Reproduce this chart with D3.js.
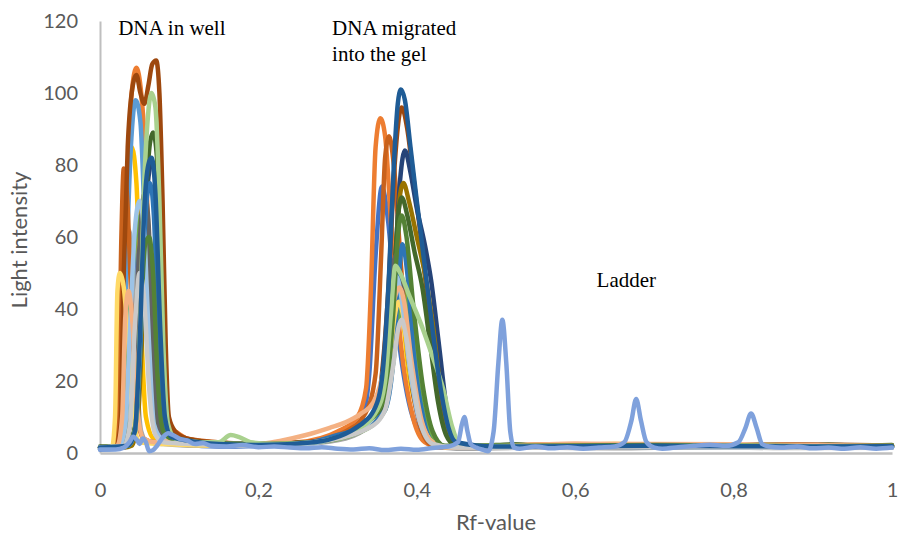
<!DOCTYPE html>
<html><head><meta charset="utf-8">
<script src="https://cdn.jsdelivr.net/npm/d3@7"></script>
<style>
html,body{margin:0;padding:0;background:#fff;}
svg{display:block;}
</style></head>
<body>
<svg id="chart" width="899" height="539"></svg>
<script>
// ---- DATA: [Rf-value, light intensity] ----
const xTicks = [0, 0.2, 0.4, 0.6, 0.8, 1];
const xTickLabels = ["0", "0,2", "0,4", "0,6", "0,8", "1"];
const yTicks = [0, 20, 40, 60, 80, 100, 120];

const sBlue = [[0,1],[0.02,1.2],[0.03,3],[0.037,30],[0.044,52],[0.05,60],[0.056,55],[0.062,28],[0.068,8],[0.08,3],[0.1,2.5],[0.15,1.8],[0.2,2],[0.25,2.5],[0.3,5],[0.33,9],[0.34,22],[0.348,55],[0.356,74],[0.364,64],[0.374,38],[0.39,14],[0.41,4],[0.43,1.5],[0.5,1.8],[0.6,1.5],[0.7,2],[0.8,1.6],[0.9,2],[1,1.7]];
const sOrange = [[0,1.5],[0.02,1.5],[0.028,6],[0.034,65],[0.04,100],[0.046,107],[0.052,100],[0.058,80],[0.064,40],[0.07,14],[0.08,8],[0.095,6],[0.11,4],[0.14,3],[0.2,2.5],[0.25,3],[0.3,6],[0.325,10],[0.336,18],[0.342,45],[0.348,85],[0.354,93],[0.36,88],[0.368,62],[0.38,30],[0.395,10],[0.41,3],[0.43,1.5],[0.5,2],[0.6,2.5],[0.7,1.8],[0.8,2.2],[0.9,1.8],[1,2]];
const sGray = [[0,1.2],[0.02,1.5],[0.027,8],[0.031,45],[0.036,62],[0.041,55],[0.046,25],[0.052,6],[0.06,3],[0.08,2.5],[0.12,2],[0.2,2],[0.26,2.5],[0.31,4],[0.345,9],[0.36,16],[0.37,30],[0.38,40],[0.387,34],[0.395,18],[0.41,6],[0.425,2],[0.45,1.2],[0.55,1.5],[0.65,1.3],[0.75,1.6],[0.85,1.4],[1,1.5]];
const sGold = [[0,1.5],[0.018,1.5],[0.024,10],[0.029,50],[0.034,78],[0.04,85],[0.046,75],[0.052,35],[0.058,10],[0.068,4],[0.09,3],[0.12,2.5],[0.2,2],[0.27,3],[0.32,6],[0.35,12],[0.36,25],[0.368,42],[0.374,48],[0.38,42],[0.39,22],[0.405,9],[0.425,3],[0.44,1.5],[0.55,2],[0.65,2.5],[0.75,1.8],[0.85,2.2],[1,2]];
const sLightBlue = [[0,1.5],[0.02,1.5],[0.027,6],[0.033,50],[0.039,85],[0.045,98],[0.051,92],[0.057,60],[0.063,20],[0.07,6],[0.085,4],[0.11,3],[0.15,2.5],[0.2,2],[0.27,3],[0.32,6],[0.35,13],[0.36,28],[0.368,45],[0.376,52],[0.384,44],[0.395,24],[0.41,8],[0.43,2],[0.46,1.5],[0.55,1.8],[0.7,1.5],[0.85,1.9],[1,1.6]];
const sGreen = [[0,1.5],[0.025,1.5],[0.032,8],[0.038,40],[0.045,60],[0.052,66],[0.058,58],[0.064,30],[0.07,10],[0.08,4],[0.1,3],[0.15,2.5],[0.2,2.5],[0.27,3],[0.33,6],[0.36,12],[0.372,28],[0.38,42],[0.386,45],[0.393,36],[0.403,18],[0.415,6],[0.43,2],[0.46,1.5],[0.55,2],[0.7,1.7],[0.85,2],[1,1.8]];
const sDarkOrange = [[0,1.5],[0.018,1.5],[0.023,10],[0.027,60],[0.03,79],[0.034,72],[0.04,40],[0.047,10],[0.055,4],[0.07,3],[0.09,5],[0.11,4],[0.15,3],[0.2,2.5],[0.26,3],[0.31,6],[0.335,11],[0.348,22],[0.355,55],[0.36,82],[0.365,88],[0.371,80],[0.38,52],[0.392,22],[0.405,7],[0.42,2],[0.45,1.5],[0.55,2],[0.65,1.8],[0.75,2.2],[0.9,1.8],[1,2]];
const sBrown = [[0,1.5],[0.02,1.5],[0.026,8],[0.03,50],[0.035,85],[0.04,100],[0.046,105],[0.051,100],[0.056,97],[0.061,102],[0.066,108],[0.071,109],[0.075,100],[0.079,70],[0.083,30],[0.087,10],[0.095,6],[0.11,4],[0.14,3],[0.2,2.5],[0.26,3],[0.31,5],[0.345,10],[0.355,20],[0.364,45],[0.372,80],[0.381,96],[0.388,90],[0.396,76],[0.404,62],[0.412,46],[0.422,28],[0.432,12],[0.442,4],[0.46,1.8],[0.55,2],[0.65,2.2],[0.75,1.8],[0.85,2.4],[1,2]];
const sNavy = [[0,1.5],[0.03,1.5],[0.042,5],[0.05,25],[0.056,60],[0.062,78],[0.066,81],[0.071,75],[0.076,45],[0.081,15],[0.088,5],[0.1,3.5],[0.14,2.5],[0.2,2.5],[0.27,3],[0.32,6],[0.35,11],[0.362,22],[0.372,50],[0.379,76],[0.385,84],[0.392,78],[0.4,68],[0.41,58],[0.418,48],[0.428,30],[0.438,12],[0.448,4],[0.46,1.8],[0.55,2],[0.7,1.8],[0.85,2],[1,1.8]];
const sOlive = [[0,1.5],[0.03,1.5],[0.04,2],[0.048,10],[0.054,35],[0.058,44],[0.063,50],[0.069,55],[0.074,45],[0.079,20],[0.085,6],[0.1,3.5],[0.15,2.5],[0.2,2],[0.27,3],[0.32,6],[0.35,10],[0.362,20],[0.372,50],[0.379,72],[0.383,75],[0.39,70],[0.4,60],[0.41,50],[0.42,36],[0.43,18],[0.44,6],[0.45,2],[0.55,2.2],[0.7,1.8],[0.85,2.1],[1,1.9]];
const sDarkGreen = [[0,1.8],[0.025,1.8],[0.035,2],[0.045,8],[0.052,35],[0.058,70],[0.063,86],[0.067,89],[0.072,82],[0.077,50],[0.082,18],[0.088,6],[0.1,4],[0.13,3],[0.18,2.5],[0.22,2.2],[0.27,3],[0.32,6],[0.35,10],[0.36,18],[0.37,42],[0.376,65],[0.381,71],[0.388,66],[0.397,56],[0.407,46],[0.417,30],[0.427,14],[0.437,5],[0.447,2.5],[0.48,2],[0.52,2.4],[0.56,1.9],[0.6,2.3],[0.64,2],[0.68,2.4],[0.72,1.9],[0.76,2.3],[0.8,2],[0.84,2.4],[0.88,1.9],[0.92,2.3],[0.96,2],[1,2.2]];
const sDarkGray = [[0,1.5],[0.03,2],[0.038,8],[0.044,30],[0.05,58],[0.056,72],[0.061,65],[0.066,35],[0.072,10],[0.08,4],[0.1,3],[0.15,2.5],[0.2,2.2],[0.27,3],[0.33,8],[0.355,14],[0.363,30],[0.369,50],[0.374,55],[0.38,48],[0.39,25],[0.405,8],[0.42,2.5],[0.45,1.5],[0.55,1.8],[0.7,1.5],[0.85,1.9],[1,1.6]];
const sSteelBlue = [[0,1.5],[0.035,2],[0.045,6],[0.052,35],[0.058,68],[0.063,75],[0.068,66],[0.074,30],[0.08,8],[0.09,4],[0.12,3],[0.18,2.5],[0.25,2.5],[0.3,5],[0.34,8],[0.36,12],[0.37,25],[0.377,48],[0.382,58],[0.388,50],[0.396,28],[0.408,10],[0.42,3],[0.45,1.5],[0.6,1.8],[0.8,1.6],[1,1.7]];
const sLightGold = [[0,1.5],[0.015,1.5],[0.019,10],[0.022,45],[0.025,50],[0.03,46],[0.036,30],[0.042,10],[0.05,3],[0.08,2.5],[0.15,2],[0.25,2.5],[0.33,7],[0.355,14],[0.365,25],[0.372,38],[0.377,42],[0.383,38],[0.392,22],[0.405,9],[0.42,3],[0.44,1.5],[0.6,2],[0.8,1.8],[1,1.8]];
const sPaleBlue = [[0,1.5],[0.025,2],[0.032,8],[0.038,35],[0.044,62],[0.05,70],[0.056,60],[0.062,30],[0.068,8],[0.078,4],[0.1,3],[0.15,2.5],[0.25,2.5],[0.33,7],[0.35,12],[0.36,22],[0.368,40],[0.374,49],[0.38,44],[0.39,26],[0.402,10],[0.42,3],[0.45,1.5],[0.6,1.8],[0.8,1.5],[1,1.7]];
const sPeach = [[0,1.5],[0.018,1.5],[0.022,2],[0.028,10],[0.032,38],[0.036,45],[0.041,36],[0.047,12],[0.055,4],[0.07,3],[0.1,3.5],[0.15,2.5],[0.2,2.5],[0.23,3.5],[0.26,5],[0.29,7],[0.31,8.5],[0.33,11],[0.345,14],[0.355,20],[0.365,33],[0.372,43],[0.378,46],[0.384,42],[0.393,26],[0.405,10],[0.42,3],[0.44,1.5],[0.6,2.6],[0.8,2.4],[1,2]];
const sGreen2 = [[0,1.5],[0.035,2],[0.045,8],[0.052,40],[0.057,58],[0.062,60],[0.067,50],[0.073,20],[0.08,6],[0.09,4],[0.12,3],[0.2,2.5],[0.27,3],[0.34,9],[0.36,16],[0.37,38],[0.376,60],[0.381,66],[0.387,60],[0.396,40],[0.408,18],[0.42,6],[0.435,2],[0.5,2],[0.7,2.2],[0.9,1.9],[1,2]];
const sLightGreen = [[0,1.5],[0.035,2],[0.044,6],[0.05,30],[0.055,70],[0.06,92],[0.065,100],[0.07,96],[0.075,70],[0.08,30],[0.086,8],[0.095,4],[0.12,3],[0.15,3],[0.165,5],[0.175,4.5],[0.19,3],[0.22,2.5],[0.27,3],[0.32,6],[0.35,12],[0.36,20],[0.367,38],[0.373,52],[0.379,50],[0.39,44],[0.405,36],[0.418,28],[0.433,18],[0.445,7],[0.455,2],[0.6,1.8],[0.8,2],[1,1.7]];
const sLightGray = [[0,1.5],[0.03,2],[0.038,8],[0.044,35],[0.05,50],[0.056,42],[0.062,18],[0.07,5],[0.08,3],[0.12,2.5],[0.2,2],[0.27,3],[0.34,7],[0.36,12],[0.37,24],[0.377,35],[0.381,37],[0.386,33],[0.395,20],[0.405,8],[0.42,2.5],[0.45,1.5],[0.7,1.6],[1,1.5]];
const sDarkBlue = [[0,1.5],[0.035,2],[0.044,6],[0.05,30],[0.056,68],[0.061,80],[0.065,82],[0.07,72],[0.076,35],[0.082,10],[0.09,4.5],[0.11,3.5],[0.15,2.5],[0.2,2.2],[0.27,3],[0.33,8],[0.35,14],[0.358,25],[0.365,50],[0.371,80],[0.376,97],[0.38,101],[0.385,98],[0.392,85],[0.4,70],[0.41,52],[0.42,34],[0.43,18],[0.44,7],[0.45,3],[0.5,1.8],[0.7,2],[0.9,1.8],[1,1.9]];
const sLadder = [[0,1],[0.02,1],[0.03,1.5],[0.037,3],[0.042,4.5],[0.047,3.5],[0.05,2.5],[0.054,4],[0.058,3],[0.062,0.5],[0.067,0.8],[0.072,2],[0.08,4.5],[0.086,5.5],[0.092,5],[0.1,4],[0.11,3.5],[0.12,2.5],[0.13,2.8],[0.14,2],[0.16,1.8],[0.18,2.2],[0.2,1.6],[0.22,1.8],[0.24,1.5],[0.26,1.3],[0.28,1.6],[0.3,1.2],[0.32,1],[0.34,1.3],[0.36,0.8],[0.38,1.2],[0.4,0.9],[0.42,1.4],[0.44,1.8],[0.452,3],[0.457,8],[0.46,10],[0.464,6],[0.468,2.5],[0.475,1.5],[0.485,0.8],[0.49,0.5],[0.497,6],[0.503,25],[0.508,37],[0.513,25],[0.518,6],[0.523,1.5],[0.53,1.2],[0.55,1.8],[0.57,1.3],[0.59,1.6],[0.61,1.2],[0.63,1.5],[0.65,1.8],[0.662,3],[0.671,9],[0.677,15],[0.683,9],[0.69,3],[0.7,1.5],[0.71,1.2],[0.73,1.6],[0.75,2],[0.77,2.3],[0.79,2],[0.806,3],[0.815,7],[0.822,11],[0.829,7],[0.836,2.5],[0.845,1.8],[0.86,1.5],[0.88,1.8],[0.9,1.3],[0.92,1.5],[0.94,1.2],[0.96,1.6],[0.98,1.2],[1,1.5]];

// drawing order and colours
const seriesData = [sBlue, sOrange, sGray, sGold, sLightBlue, sGreen, sDarkOrange, sBrown, sNavy, sOlive, sDarkGreen, sDarkGray, sSteelBlue, sLightGold, sPaleBlue, sPeach, sGreen2, sLightGreen, sLightGray, sDarkBlue, sLadder];
const seriesColors = ["#4472C4","#ED7D31","#A5A5A5","#FFC000","#5B9BD5","#70AD47","#C9621C","#9E480E","#264478","#997300","#43682B","#636363","#2E75B6","#FFD966","#9DC3E6","#F4B183","#548235","#A9D18E","#C9C9C9","#1F5C96","#7FA1DC"];

const annotations = [
  {text: "DNA in well", x: 0.023, y: 116},
  {text: "DNA migrated", x: 0.293, y: 116},
  {text: "into the gel", x: 0.293, y: 109},
  {text: "Ladder", x: 0.627, y: 46}
];

// ---- CHART ----
const svg = d3.select("#chart");
const W = 899, H = 539;
const m = {left: 100, right: 7, top: 21, bottom: 86};
const x = d3.scaleLinear().domain([0, 1]).range([m.left, W - m.right]);
const y = d3.scaleLinear().domain([0, 120]).range([H - m.bottom, m.top]);

const font = "Lato, 'Open Sans', sans-serif";

// axes
const yAxis = d3.axisLeft(y).tickValues(yTicks).tickSize(0).tickPadding(22).tickFormat(d3.format("d"));
const gy = svg.append("g").attr("transform", `translate(${m.left},0)`).call(yAxis);
gy.select(".domain").attr("stroke", "#BFBFBF").attr("stroke-width", 2);
gy.selectAll("text").attr("fill", "#595959").style("font-family", font).style("font-size", "20px");

const xAxis = d3.axisBottom(x).tickValues(xTicks).tickSize(0).tickPadding(30).tickFormat((d, i) => xTickLabels[i]);
const gx = svg.append("g").attr("transform", `translate(0,${y(0)})`).call(xAxis);
gx.select(".domain").attr("stroke", "#BFBFBF").attr("stroke-width", 2.5);
gx.selectAll("text").attr("fill", "#595959").style("font-family", font).style("font-size", "20px");

// lines
const line = d3.line().x(d => x(d[0])).y(d => y(d[1])).curve(d3.curveMonotoneX);
svg.append("g").selectAll("path").data(seriesData).join("path")
  .attr("d", line)
  .attr("fill", "none")
  .attr("stroke", (d, i) => seriesColors[i])
  .attr("stroke-width", 4.5)
  .attr("stroke-linejoin", "round")
  .attr("stroke-linecap", "round");

// titles
svg.append("text").attr("x", (m.left + W - m.right) / 2).attr("y", 530)
  .attr("text-anchor", "middle").attr("fill", "#595959")
  .style("font-family", font).style("font-size", "22px").text("Rf-value");
svg.append("text").attr("transform", "translate(27,240) rotate(-90)")
  .attr("text-anchor", "middle").attr("fill", "#595959")
  .style("font-family", font).style("font-size", "22px").text("Light intensity");

// annotations
svg.append("g").selectAll("text").data(annotations).join("text")
  .attr("x", d => x(d.x)).attr("y", d => y(d.y))
  .attr("fill", "#000")
  .style("font-family", "'Liberation Serif', 'Times New Roman', serif")
  .style("font-size", "21px")
  .text(d => d.text);
</script>
</body></html>
